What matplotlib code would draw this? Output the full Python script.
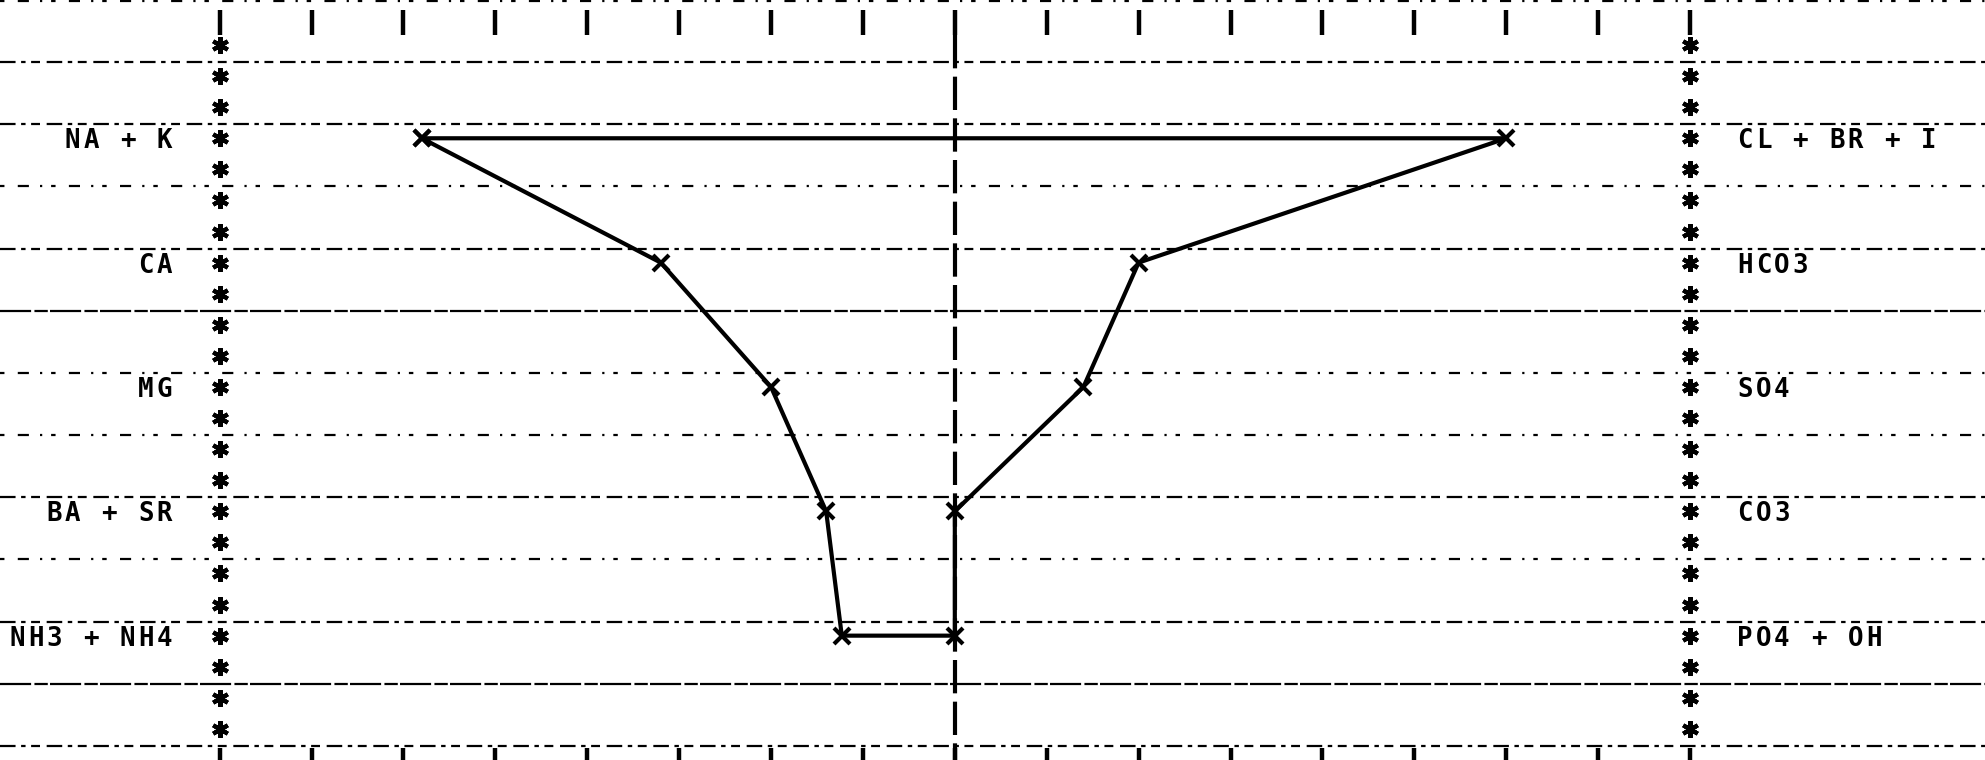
import matplotlib
matplotlib.use("Agg")
import matplotlib.pyplot as plt
import numpy as np

# stiff diagram, kationen links / anionen rechts
cations = ["NA + K", "CA", "MG", "BA + SR", "NH3 + NH4"]
anions = ["CL + BR + I", "HCO3", "SO4", "CO3", "PO4 + OH"]
cation_vals = [5.8, 3.2, 2.0, 1.4, 1.23]
anion_vals = [6.0, 2.0, 1.4, 0.0, 0.0]
scale_ticks = list(range(-8, 9))

fig = plt.figure(figsize=(19.85, 7.6), dpi=100)
ax = fig.add_axes([0, 0, 1, 1])
ax.set_xlim(-10.39, 11.21)
ax.set_ylim(5.0, -1.112)
ax.axis("off")

rows = np.arange(len(cations))
cell_w = 0.2    # one printer column
cell_h = 0.25   # one printer line

# broken horizontal lines (scan look)
solid_ish = (0, (14, 1.5, 6, 1))
medium = (0, (7, 2.5, 2, 2.5, 4, 3))
sparse = (0, (2, 6, 5, 5, 1, 4))
line_styles = [medium, medium, sparse, medium, solid_ish, sparse,
               sparse, medium, sparse, medium, solid_ish, medium]
for k, ls in zip(range(-1, 11), line_styles):
    ax.axhline(k * 0.5 - 0.113, color="black", lw=1.6, linestyle=ls, zorder=1)
ax.axhline(-1.1, color="black", lw=1.6, linestyle=sparse, zorder=1)

# scale ticks top and bottom
ax.vlines(scale_ticks, -1.032, -0.83, color="black", lw=3.2)
ax.vlines(scale_ticks, 4.9, 5.1, color="black", lw=3.2)

# center line
ax.plot([0, 0], [-0.83, 5.0], color="black", lw=3, linestyle=(0, (8, 2)))

# asterisk columns
stars = np.arange(-0.75, 4.76, cell_h)
for xs in [-8, 8]:
    ax.plot([xs] * len(stars), stars, linestyle="none", marker=(6, 2, 0),
            ms=12, mew=3, color="black")

# polygon
px = [-v for v in cation_vals] + anion_vals[::-1] + [-cation_vals[0]]
py = list(rows) + list(rows[::-1]) + [rows[0]]
ax.plot(px, py, color="black", lw=3, marker="x", ms=12, mew=3, zorder=3)

# labels, one char per printer column
font = dict(family="DejaVu Sans Mono", weight="bold", fontsize=18.5,
            ha="center", va="baseline")
for i, lab in enumerate(cations):
    n = len(lab)
    for j, ch in enumerate(lab):
        if ch != " ":
            ax.text(-8.6 - cell_w * (n - 1 - j), i + 0.08, ch, **font)
for i, lab in enumerate(anions):
    for j, ch in enumerate(lab):
        if ch != " ":
            ax.text(8.6 + cell_w * j, i + 0.08, ch, **font)

fig.savefig("out.png", dpi=100, facecolor="white")
